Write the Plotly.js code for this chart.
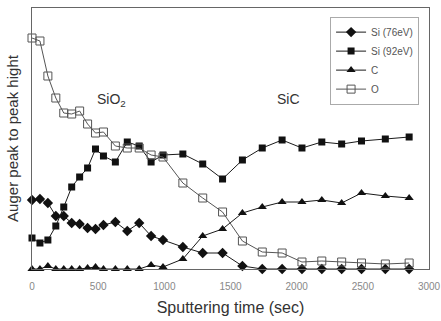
<!DOCTYPE html>
<html>
<head>
<meta charset="utf-8">
<script src="https://cdn.plot.ly/plotly-3.0.1.min.js"></script>
<style>html,body{margin:0;padding:0;background:#fff;}#chart{width:441px;height:321px;}</style>
</head>
<body>
<div id="chart"></div>
<script>
// Sputtering time (sec)
const time = [0, 60, 120, 180, 240, 300, 360, 420, 480, 540, 630, 720, 810, 900, 990,
              1140, 1290, 1440, 1590, 1740, 1890, 2040, 2190, 2340, 2490, 2670, 2850];
// Auger peak-to-peak height (arbitrary units)
const si76 = [6.9, 7.0, 6.6, 5.3, 5.3, 4.6, 4.5, 4.1, 4.0, 4.4, 4.7, 3.8, 4.6, 3.3, 2.9,
              2.2, 1.6, 1.6, 0.3, 0.0, 0.0, 0.0, 0.0, 0.0, 0.0, 0.0, 0.0];
const si92 = [3.1, 2.6, 2.9, 4.3, 6.2, 8.2, 9.2, 10.1, 12.0, 11.3, 10.7, 12.7, 12.3, 10.7, 11.4,
              11.5, 10.5, 9.0, 10.9, 12.1, 12.9, 12.1, 12.7, 12.5, 12.8, 13.0, 13.2];
const carbon = [0.0, 0.0, 0.3, 0.0, 0.0, 0.0, 0.0, 0.1, 0.2, 0.0, 0.0, 0.0, 0.0, 0.4, 0.2,
                1.0, 3.3, 4.0, 5.6, 6.2, 6.7, 6.7, 6.9, 6.6, 7.6, 7.3, 7.1];
const oxygen = [23.1, 22.8, 19.3, 17.1, 15.6, 15.5, 15.8, 14.5, 13.6, 13.7, 12.3, 12.1, 12.1, 11.4, 11.2,
                8.6, 7.1, 5.7, 2.8, 1.7, 1.6, 0.7, 0.8, 0.7, 0.6, 0.5, 0.6];
const seriesNames = ['Si (76eV)', 'Si (92eV)', 'C', 'O'];
const xTicks = [0, 500, 1000, 1500, 2000, 2500, 3000];
const regionLabels = ['SiO<sub>2</sub>', 'SiC'];
const regionX = [597, 1935];
const regionY = [16.9, 17.0];

const lineBlack = {color: '#1a1a1a', width: 1};
const traces = [
  {x: time, y: si76, name: seriesNames[0], mode: 'lines+markers', cliponaxis: false,
   line: lineBlack, marker: {symbol: 'diamond', size: 8, color: '#111'}},
  {x: time, y: si92, name: seriesNames[1], mode: 'lines+markers', cliponaxis: false,
   line: lineBlack, marker: {symbol: 'square', size: 7, color: '#111'}},
  {x: time, y: carbon, name: seriesNames[2], mode: 'lines+markers', cliponaxis: false,
   line: lineBlack, marker: {symbol: 'triangle-up', size: 8, color: '#111'}},
  {x: time, y: oxygen, name: seriesNames[3], mode: 'lines+markers', cliponaxis: false,
   line: {color: '#555', width: 1},
   marker: {symbol: 'square-open', size: 8, color: '#555', line: {color: '#555', width: 1}}}
];

const layout = {
  width: 441, height: 321,
  margin: {l: 32, r: 12, t: 8, b: 52},
  paper_bgcolor: '#fff', plot_bgcolor: '#fff',
  font: {family: 'Liberation Sans, Arial, sans-serif', color: '#333'},
  showlegend: true,
  legend: {x: 0.975, xanchor: 'right', y: 0.967, yanchor: 'top',
           bgcolor: '#fff', bordercolor: '#aaa', borderwidth: 1,
           font: {size: 10, color: '#555'}},
  xaxis: {range: [0, 3000], tickvals: xTicks, ticktext: xTicks.map(String),
          showgrid: false, zeroline: false, showline: true, mirror: true,
          linecolor: '#666', linewidth: 1,
          ticks: 'outside', ticklen: 8, tickcolor: 'rgba(0,0,0,0)',
          tickfont: {size: 10, color: '#888'},
          title: {text: 'Sputtering time (sec)', font: {size: 16, color: '#333'}, standoff: 10}},
  yaxis: {range: [0, 26.1], showticklabels: false, ticks: '',
          showgrid: false, zeroline: false, showline: true, mirror: true,
          linecolor: '#666', linewidth: 1,
          title: {text: 'Auger peak to peak hight', font: {size: 15, color: '#333'}, standoff: 8}},
  annotations: regionLabels.map((t, i) => ({
    x: regionX[i], y: regionY[i], xref: 'x', yref: 'y', text: t, showarrow: false,
    font: {size: 14, color: '#333'}
  }))
};

Plotly.newPlot('chart', traces, layout, {displayModeBar: false, staticPlot: true});
</script>
</body>
</html>
